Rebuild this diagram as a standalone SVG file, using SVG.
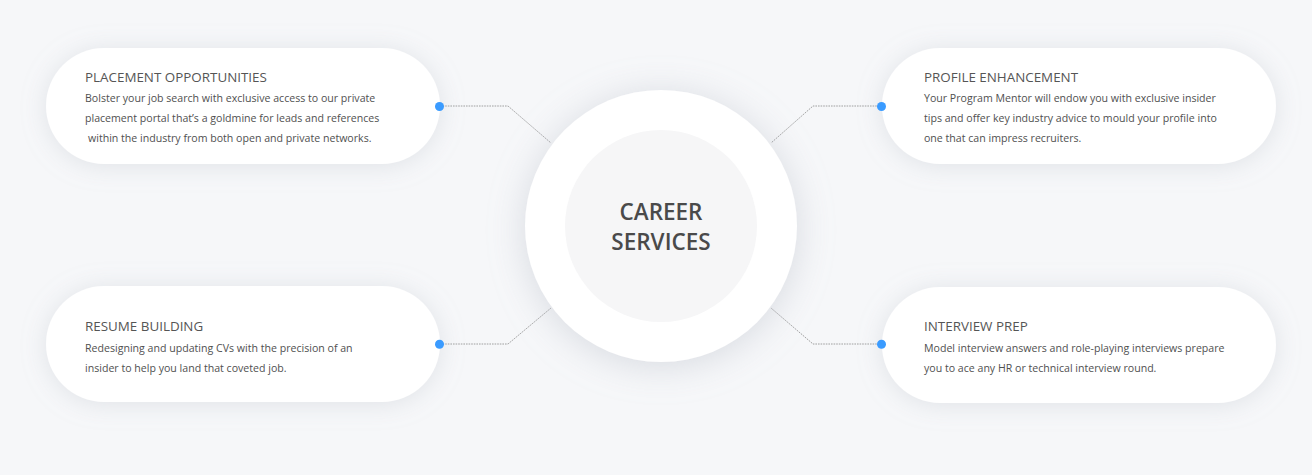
<svg xmlns="http://www.w3.org/2000/svg" width="1312" height="475" viewBox="0 0 1312 475">
<style>
.pill{fill:#ffffff;filter:url(#sh)}
.title{font-family:"Open Sans","Noto Sans",sans-serif;font-size:13.4px;fill:#555555;font-weight:400}
.body{font-family:"Open Sans","Noto Sans",sans-serif;font-size:10.6px;fill:#505050}
.dot{fill:#3a9bff}
.conn{fill:none;stroke:#8a8a8a;stroke-width:0.8;stroke-dasharray:1.6 1}
.center{font-family:"Open Sans","Noto Sans",sans-serif;font-size:22.5px;font-weight:600;fill:#4a4a4a;text-anchor:middle}
</style>
<defs>
<filter id="sh" x="-30%" y="-50%" width="160%" height="200%">
<feDropShadow dx="0" dy="2" stdDeviation="12" flood-color="#aab0bc" flood-opacity="0.3"/>
</filter>
<filter id="shc" x="-40%" y="-40%" width="180%" height="180%">
<feDropShadow dx="0" dy="4" stdDeviation="18" flood-color="#a8aebb" flood-opacity="0.4"/>
</filter>
</defs>
<rect x="0" y="0" width="1312" height="475" fill="#f6f7f9"/>
<g id="connectors">
<polyline class="conn" points="440,106 508,106 551,143"/>
<polyline class="conn" points="882,106 813,106 771,143"/>
<polyline class="conn" points="440,344 508,344 551,308"/>
<polyline class="conn" points="882,344 813,344 771,308"/>
</g>
<g id="center">
<circle cx="661" cy="226" r="136" fill="#ffffff" filter="url(#shc)"/>
<circle cx="661" cy="226" r="96" fill="#f6f6f7"/>
<text class="center" x="661" y="220">CAREER</text>
<text class="center" x="661" y="250">SERVICES</text>
</g>
<g id="placement">
<rect class="pill" x="46" y="48" width="394" height="116" rx="58"/>
<text class="title" x="85" y="82">PLACEMENT OPPORTUNITIES</text>
<text class="body" x="85" y="102">Bolster your job search with exclusive access to our private</text>
<text class="body" x="85" y="122">placement portal that’s a goldmine for leads and references</text>
<text class="body" x="88" y="142">within the industry from both open and private networks.</text>
<circle class="dot" cx="439.5" cy="106.5" r="4.5"/>
</g>
<g id="profile">
<rect class="pill" x="882" y="48" width="394" height="116" rx="58"/>
<text class="title" x="924" y="82">PROFILE ENHANCEMENT</text>
<text class="body" x="924" y="102">Your Program Mentor will endow you with exclusive insider</text>
<text class="body" x="924" y="122">tips and offer key industry advice to mould your profile into</text>
<text class="body" x="924" y="142">one that can impress recruiters.</text>
<circle class="dot" cx="881.5" cy="106.5" r="4.5"/>
</g>
<g id="resume">
<rect class="pill" x="46" y="286" width="394" height="116" rx="58"/>
<text class="title" x="85" y="331">RESUME BUILDING</text>
<text class="body" x="85" y="352">Redesigning and updating CVs with the precision of an</text>
<text class="body" x="85" y="372">insider to help you land that coveted job.</text>
<circle class="dot" cx="439.5" cy="344.3" r="4.5"/>
</g>
<g id="interview">
<rect class="pill" x="882" y="287" width="394" height="116" rx="58"/>
<text class="title" x="924" y="331">INTERVIEW PREP</text>
<text class="body" x="924" y="352">Model interview answers and role-playing interviews prepare</text>
<text class="body" x="924" y="372">you to ace any HR or technical interview round.</text>
<circle class="dot" cx="881.5" cy="344.3" r="4.5"/>
</g>
</svg>
